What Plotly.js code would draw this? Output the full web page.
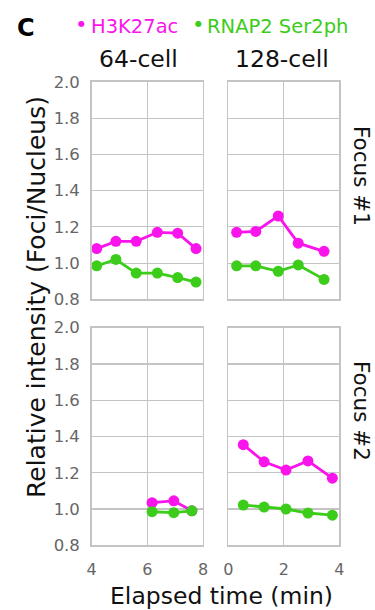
<!DOCTYPE html>
<html>
<head>
<meta charset="utf-8">
<script src="https://cdn.plot.ly/plotly-3.0.1.min.js"></script>
<style>
html,body{margin:0;padding:0;background:#fff;}
#chart{width:375px;height:610px;}
</style>
</head>
<body>
<div id="chart"></div>
<script>
// ---- data ----
const seriesNames = ["H3K27ac", "RNAP2 Ser2ph"];
const stageLabels = ["64-cell", "128-cell"];
const focusLabels = ["Focus #1", "Focus #2"];

const time64_f1 = [4.18, 4.87, 5.60, 6.36, 7.09, 7.75];
const h3_64_f1 = [1.08, 1.12, 1.12, 1.17, 1.165, 1.08];
const rnap_64_f1 = [0.985, 1.02, 0.945, 0.945, 0.92, 0.895];

const time128_f1 = [0.30, 0.99, 1.80, 2.52, 3.45];
const h3_128_f1 = [1.17, 1.175, 1.26, 1.11, 1.065];
const rnap_128_f1 = [0.985, 0.985, 0.955, 0.99, 0.91];

const time64_f2 = [6.17, 6.95, 7.60];
const h3_64_f2 = [1.035, 1.045, 0.99];
const rnap_64_f2 = [0.985, 0.98, 0.99];

const time128_f2 = [0.54, 1.29, 2.08, 2.87, 3.75];
const h3_128_f2 = [1.355, 1.26, 1.215, 1.265, 1.17];
const rnap_128_f2 = [1.022, 1.011, 1.0, 0.978, 0.966];

const yTicks = [0.8, 1.0, 1.2, 1.4, 1.6, 1.8, 2.0];
const xTicks64 = [4, 6, 8];
const xTicks128 = [0, 2, 4];

// ---- styling ----
const MAG = '#fa14ec';
const GRN = '#3ccc1a';
const FONT = 'DejaVu Sans';
const GRID = '#c4c4c4';
const TICKC = '#666666';

function tr(x, y, color, xa, ya) {
  return {
    x: x, y: y, xaxis: xa, yaxis: ya, type: 'scatter', mode: 'lines+markers',
    line: {color: color, width: 2.8},
    marker: {color: color, size: 11},
    showlegend: false, hoverinfo: 'skip'
  };
}

const data = [
  tr(time64_f1, h3_64_f1, MAG, 'x', 'y'),
  tr(time64_f1, rnap_64_f1, GRN, 'x', 'y'),
  tr(time128_f1, h3_128_f1, MAG, 'x2', 'y2'),
  tr(time128_f1, rnap_128_f1, GRN, 'x2', 'y2'),
  tr(time64_f2, h3_64_f2, MAG, 'x3', 'y3'),
  tr(time64_f2, rnap_64_f2, GRN, 'x3', 'y3'),
  tr(time128_f2, h3_128_f2, MAG, 'x4', 'y4'),
  tr(time128_f2, rnap_128_f2, GRN, 'x4', 'y4')
];

const dLeft = [0.2445, 0.5413];
const dRight = [0.6088, 0.9048];
const dTop = [0.5093, 0.8656];
const dBot = [0.1061, 0.4628];

function xax(domain, range, ticks, anchor, showLabels) {
  return {
    domain: domain, range: range, anchor: anchor,
    tickmode: 'array', tickvals: ticks, ticktext: ticks.map(String),
    showticklabels: showLabels, ticks: '', ticklabelstandoff: 9,
    tickfont: {family: FONT, size: 16, color: TICKC},
    showgrid: true, gridcolor: GRID, gridwidth: 1.2,
    showline: true, linecolor: GRID, linewidth: 1.5, mirror: true,
    zeroline: false, fixedrange: true
  };
}
function yax(domain, anchor, showLabels) {
  return {
    domain: domain, range: [0.8, 2.0], anchor: anchor,
    tickmode: 'array', tickvals: yTicks, ticktext: yTicks.map(v => v.toFixed(1)),
    showticklabels: showLabels, ticks: '', ticklabelstandoff: 7,
    tickfont: {family: FONT, size: 16.5, color: TICKC},
    showgrid: true, gridcolor: GRID, gridwidth: 1.2,
    showline: true, linecolor: GRID, linewidth: 1.5, mirror: true,
    zeroline: false, fixedrange: true
  };
}

const ann = [];
function A(text, x, y, opts) {
  ann.push(Object.assign({
    text: text, x: x, y: y, xref: 'paper', yref: 'paper',
    xanchor: 'center', yanchor: 'middle', showarrow: false,
    font: {family: FONT, size: 20, color: '#111'}
  }, opts || {}));
}
function px(x) { return x / 375; }
function py(y) { return 1 - y / 610; }

A('<b>C</b>', px(26), py(28), {font: {family: FONT, size: 24, color: '#000'}});
A('●', px(81), py(24), {font: {family: FONT, size: 8, color: MAG}});
A(seriesNames[0], px(89), py(26), {xanchor: 'left', font: {family: FONT, size: 19.5, color: MAG}});
A('●', px(198), py(24), {font: {family: FONT, size: 8, color: GRN}});
A(seriesNames[1], px(205), py(26), {xanchor: 'left', font: {family: FONT, size: 19.5, color: GRN}});
A(stageLabels[0], px(138.5), py(59), {font: {family: FONT, size: 23.5, color: '#111'}});
A(stageLabels[1], px(282), py(59), {font: {family: FONT, size: 23.5, color: '#111'}});
A(focusLabels[0], px(361), py(176), {textangle: 90, font: {family: FONT, size: 21.5, color: '#111'}});
A(focusLabels[1], px(361), py(411), {textangle: 90, font: {family: FONT, size: 21.5, color: '#111'}});
A('Relative intensity (Foci/Nucleus)', px(37), py(297), {textangle: -90, font: {family: FONT, size: 25, color: '#111'}});
A('Elapsed time (min)', px(221.5), py(596), {font: {family: FONT, size: 23.5, color: '#111'}});

const layout = {
  width: 375, height: 610,
  margin: {l: 0, r: 0, t: 0, b: 0},
  paper_bgcolor: '#fff', plot_bgcolor: '#fff',
  showlegend: false,
  xaxis: xax(dLeft, [4, 8], xTicks64, 'y', false),
  xaxis2: xax(dRight, [0, 4], xTicks128, 'y2', false),
  xaxis3: xax(dLeft, [4, 8], xTicks64, 'y3', true),
  xaxis4: xax(dRight, [0, 4], xTicks128, 'y4', true),
  yaxis: yax(dTop, 'x', true),
  yaxis2: yax(dTop, 'x2', false),
  yaxis3: yax(dBot, 'x3', true),
  yaxis4: yax(dBot, 'x4', false),
  annotations: ann
};

Plotly.newPlot('chart', data, layout, {displayModeBar: false, staticPlot: true});
</script>
</body>
</html>
